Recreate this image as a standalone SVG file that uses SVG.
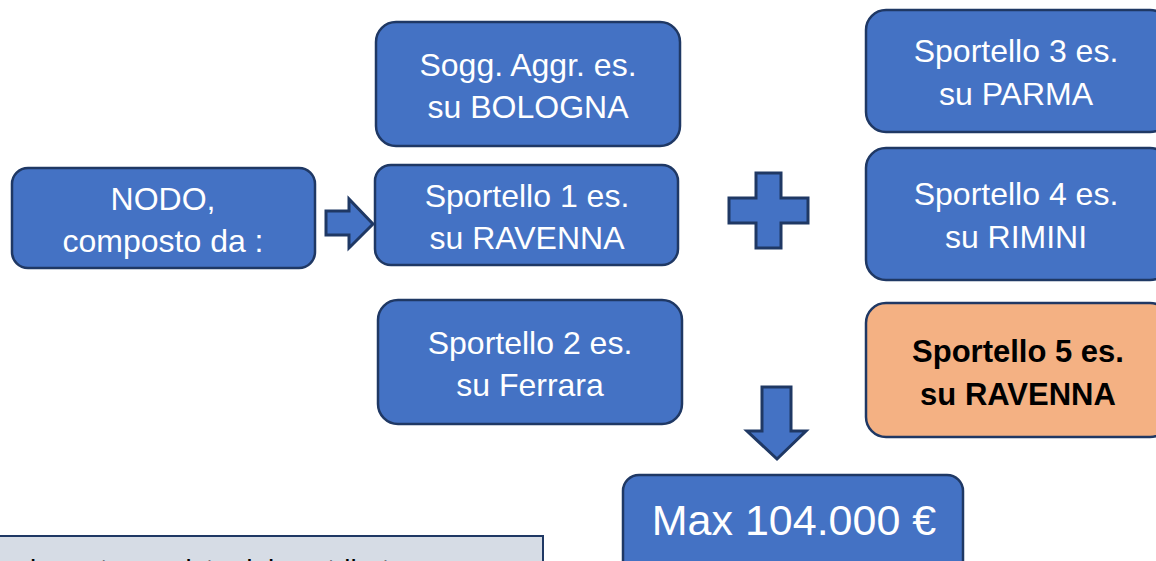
<svg xmlns="http://www.w3.org/2000/svg" width="1156" height="561" viewBox="0 0 1156 561">
<style>
.box{fill:#4472C4;stroke:#1F3864;stroke-width:2.5}
.orange{fill:#F4B183;stroke:#1F3864;stroke-width:2.5}
.note{fill:#D6DCE5;stroke:#1F3864;stroke-width:2}
.shape{fill:#4472C4;stroke:#1F3864;stroke-width:3;stroke-linejoin:miter}
.t{font-family:"Liberation Sans",Arial,sans-serif;font-size:32px;fill:#FFFFFF;text-anchor:middle}
.tb{font-family:"Liberation Sans",Arial,sans-serif;font-size:31px;font-weight:bold;fill:#000000;text-anchor:middle}
.big{font-family:"Liberation Sans",Arial,sans-serif;font-size:43px;fill:#FFFFFF;text-anchor:middle}
.nt{font-family:"Liberation Sans",Arial,sans-serif;font-size:28px;fill:#000000}
</style>
<rect width="1156" height="561" fill="#FFFFFF"/>
<g id="nodo">
<rect class="box" x="12" y="168" width="303" height="100" rx="16"/>
<text class="t" x="163" y="210">NODO,</text>
<text class="t" x="163" y="252">composto da :</text>
</g>
<g id="sogg-bologna">
<rect class="box" x="376" y="22" width="304" height="124" rx="20"/>
<text class="t" x="528" y="76">Sogg. Aggr. es.</text>
<text class="t" x="528" y="118">su BOLOGNA</text>
</g>
<g id="sportello1">
<rect class="box" x="375" y="165" width="303" height="100" rx="16"/>
<text class="t" x="527" y="207">Sportello 1 es.</text>
<text class="t" x="527" y="249">su RAVENNA</text>
</g>
<g id="sportello2">
<rect class="box" x="378" y="300" width="304" height="124" rx="20"/>
<text class="t" x="530" y="354">Sportello 2 es.</text>
<text class="t" x="530" y="396">su Ferrara</text>
</g>
<g id="sportello3">
<rect class="box" x="866" y="10" width="304" height="122" rx="20"/>
<text class="t" x="1016" y="62">Sportello 3 es.</text>
<text class="t" x="1016" y="105">su PARMA</text>
</g>
<g id="sportello4">
<rect class="box" x="866" y="148" width="304" height="132" rx="20"/>
<text class="t" x="1016" y="205">Sportello 4 es.</text>
<text class="t" x="1016" y="248">su RIMINI</text>
</g>
<g id="sportello5">
<rect class="orange" x="866" y="303" width="304" height="134" rx="20"/>
<text class="tb" x="1018" y="362">Sportello 5 es.</text>
<text class="tb" x="1018" y="405">su RAVENNA</text>
</g>
<g id="plus">
<polygon class="shape" points="756,173 781,173 781,198 808,198 808,223 781,223 781,248 756,248 756,223 729,223 729,198 756,198"/>
</g>
<g id="max">
<rect class="box" x="623" y="475" width="340" height="110" rx="16"/>
<text class="big" x="794" y="535">Max 104.000 €</text>
</g>
<g id="note">
<rect class="note" x="-2" y="536" width="545" height="60"/>
<text class="nt" x="30" y="579">importo previsto del contributo</text>
</g>
<g id="connectors">
<polygon class="shape" points="326,211 349,211 349,199 373,224 349,248 349,235 326,235"/>
<polygon class="shape" points="762,387 791,387 791,431 806,431 777,459 747,431 762,431"/>
</g>
</svg>
